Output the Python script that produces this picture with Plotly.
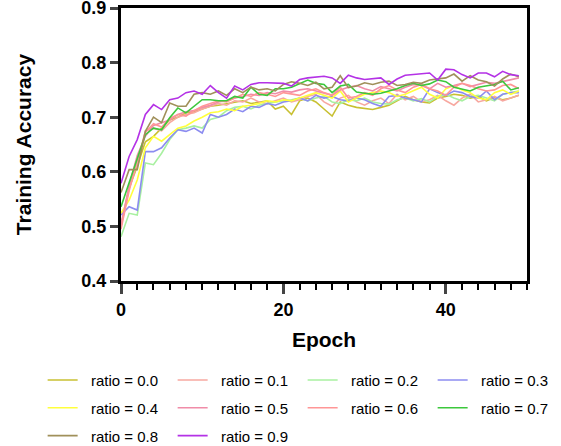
import plotly.graph_objects as go

epochs = list(range(50))

ratio_labels = ["ratio = 0.0", "ratio = 0.1", "ratio = 0.2", "ratio = 0.3", "ratio = 0.4",
                "ratio = 0.5", "ratio = 0.6", "ratio = 0.7", "ratio = 0.8", "ratio = 0.9"]

acc_r00 = [0.50, 0.57, 0.61, 0.655, 0.665, 0.68, 0.695, 0.70, 0.708, 0.71, 0.715, 0.72,
           0.722, 0.725, 0.727, 0.73, 0.725, 0.728, 0.73, 0.715, 0.72, 0.705, 0.73, 0.735,
           0.728, 0.715, 0.702, 0.728, 0.722, 0.718, 0.716, 0.714, 0.718, 0.722, 0.73, 0.738,
           0.732, 0.728, 0.726, 0.735, 0.738, 0.742, 0.74, 0.735, 0.738, 0.73, 0.736, 0.732, 0.735, 0.74]
acc_r01 = [0.505, 0.57, 0.615, 0.675, 0.68, 0.675, 0.69, 0.70, 0.705, 0.708, 0.715, 0.72,
           0.725, 0.722, 0.73, 0.728, 0.735, 0.728, 0.725, 0.73, 0.735, 0.728, 0.732, 0.738,
           0.742, 0.728, 0.72, 0.735, 0.74, 0.728, 0.722, 0.73, 0.735, 0.725, 0.742, 0.732,
           0.738, 0.728, 0.732, 0.74, 0.73, 0.722, 0.735, 0.742, 0.728, 0.732, 0.738, 0.73, 0.735, 0.74]
acc_r02 = [0.481, 0.524, 0.521, 0.616, 0.613, 0.634, 0.659, 0.677, 0.68, 0.684, 0.68, 0.696,
           0.70, 0.712, 0.718, 0.72, 0.715, 0.722, 0.725, 0.728, 0.73, 0.732, 0.735, 0.73,
           0.735, 0.738, 0.728, 0.725, 0.732, 0.73, 0.735, 0.728, 0.725, 0.724, 0.732, 0.735,
           0.73, 0.734, 0.728, 0.738, 0.742, 0.735, 0.73, 0.738, 0.74, 0.735, 0.73, 0.742, 0.745, 0.748]
acc_r03 = [0.521, 0.536, 0.53, 0.637, 0.637, 0.644, 0.662, 0.677, 0.674, 0.68, 0.671, 0.705,
           0.70, 0.705, 0.715, 0.71, 0.72, 0.718, 0.725, 0.722, 0.728, 0.73, 0.735, 0.73,
           0.74, 0.735, 0.738, 0.732, 0.73, 0.735, 0.732, 0.725, 0.72, 0.738, 0.74, 0.735,
           0.732, 0.728, 0.752, 0.745, 0.74, 0.748, 0.745, 0.738, 0.735, 0.748, 0.732, 0.742, 0.745, 0.745]
acc_r04 = [0.524, 0.548, 0.585, 0.644, 0.665, 0.656, 0.668, 0.68, 0.684, 0.693, 0.70, 0.708,
           0.71, 0.715, 0.712, 0.72, 0.722, 0.725, 0.73, 0.728, 0.732, 0.73, 0.735, 0.74,
           0.745, 0.74, 0.735, 0.748, 0.728, 0.735, 0.742, 0.745, 0.748, 0.745, 0.738, 0.742,
           0.748, 0.755, 0.742, 0.735, 0.752, 0.758, 0.75, 0.745, 0.735, 0.732, 0.745, 0.75, 0.742, 0.748]
acc_r05 = [0.50, 0.575, 0.63, 0.665, 0.685, 0.69, 0.695, 0.705, 0.71, 0.712, 0.718, 0.722,
           0.728, 0.73, 0.735, 0.738, 0.742, 0.74, 0.745, 0.743, 0.748, 0.746, 0.75, 0.752,
           0.748, 0.745, 0.74, 0.75, 0.755, 0.758, 0.752, 0.748, 0.756, 0.752, 0.748, 0.755,
           0.76, 0.758, 0.752, 0.762, 0.755, 0.758, 0.762, 0.756, 0.76, 0.764, 0.762, 0.765, 0.768, 0.772]
acc_r06 = [0.495, 0.565, 0.62, 0.672, 0.688, 0.682, 0.698, 0.705, 0.702, 0.712, 0.72, 0.725,
           0.73, 0.728, 0.735, 0.742, 0.738, 0.745, 0.742, 0.738, 0.745, 0.742, 0.74, 0.748,
           0.752, 0.745, 0.74, 0.755, 0.735, 0.738, 0.745, 0.74, 0.752, 0.758, 0.75, 0.745,
           0.755, 0.76, 0.752, 0.748, 0.74, 0.755, 0.762, 0.758, 0.752, 0.748, 0.75, 0.758, 0.76, 0.752]
acc_r07 = [0.536, 0.579, 0.622, 0.668, 0.68, 0.677, 0.699, 0.717, 0.708, 0.72, 0.732, 0.732,
           0.73, 0.73, 0.738, 0.735, 0.755, 0.742, 0.74, 0.752, 0.752, 0.755, 0.762, 0.768,
           0.762, 0.76, 0.745, 0.757, 0.76, 0.746, 0.744, 0.742, 0.744, 0.748, 0.752, 0.758,
           0.762, 0.758, 0.761, 0.768, 0.765, 0.755, 0.751, 0.748, 0.755, 0.757, 0.76, 0.766, 0.75, 0.754]
acc_r08 = [0.562, 0.604, 0.604, 0.674, 0.70, 0.69, 0.726, 0.72, 0.72, 0.742, 0.745, 0.742,
           0.748, 0.74, 0.752, 0.745, 0.755, 0.75, 0.752, 0.748, 0.76, 0.765, 0.762, 0.758,
           0.764, 0.752, 0.755, 0.776, 0.754, 0.757, 0.763, 0.76, 0.764, 0.766, 0.758, 0.76,
           0.764, 0.762, 0.768, 0.77, 0.772, 0.779, 0.766, 0.776, 0.768, 0.765, 0.757, 0.77, 0.779, 0.774]
acc_r09 = [0.579, 0.628, 0.659, 0.705, 0.723, 0.714, 0.732, 0.735, 0.745, 0.748, 0.742, 0.758,
           0.745, 0.735, 0.757, 0.75, 0.76, 0.763, 0.763, 0.763, 0.762, 0.757, 0.769, 0.772,
           0.774, 0.775, 0.772, 0.762, 0.777, 0.772, 0.769, 0.771, 0.772, 0.76, 0.77, 0.777,
           0.778, 0.78, 0.781, 0.768, 0.788, 0.787, 0.778, 0.772, 0.781, 0.781, 0.774, 0.784, 0.778, 0.776]

series = [acc_r00, acc_r01, acc_r02, acc_r03, acc_r04, acc_r05, acc_r06, acc_r07, acc_r08, acc_r09]
colors = ["#c8c032", "#f7a8a0", "#a8f0a0", "#8c8cf0", "#ffff3c",
          "#f08ca8", "#ff9696", "#3cc83c", "#a0905a", "#b432e6"]
legend_rows = ["legend", "legend", "legend", "legend", "legend2",
               "legend2", "legend2", "legend2", "legend3", "legend3"]

fig = go.Figure()
for lab, ys, c, lg in zip(ratio_labels, series, colors, legend_rows):
    fig.add_trace(go.Scatter(x=epochs, y=ys, mode="lines", name="\u00a0\u00a0" + lab,
                             line=dict(color=c, width=1.6), legend=lg))

leg_common = dict(orientation="h", x=-0.193, xanchor="left", yanchor="top",
                  font=dict(size=15, color="black", family="Liberation Sans, Arial"),
                  entrywidth=85, entrywidthmode="pixels", bgcolor="rgba(0,0,0,0)",
                  borderwidth=0)

fig.update_layout(
    width=561, height=446,
    margin=dict(l=121, r=34, t=8, b=165, autoexpand=False),
    paper_bgcolor="white", plot_bgcolor="white",
    font=dict(family="Liberation Sans, Arial, sans-serif", color="black"),
    showlegend=True,
    legend=dict(y=-0.303, **leg_common),
    legend2=dict(y=-0.405, **leg_common),
    legend3=dict(y=-0.507, **leg_common),
)
fig.update_xaxes(range=[0, 50], dtick=20, tick0=0, ticks="outside", ticklen=10, tickwidth=3,
                 showline=True, linewidth=3, linecolor="black", mirror=True, showgrid=False,
                 zeroline=False, automargin=False, ticklabeloverflow="allow",
                 minor=dict(dtick=2, tick0=0, ticks="outside", ticklen=6, tickwidth=2, tickcolor="black"),
                 tickfont=dict(size=18, family="Liberation Sans, Arial", color="black", weight="bold"),
                 title=dict(text="<b>Epoch</b>", font=dict(size=21, color="black"), standoff=14))
fig.update_yaxes(range=[0.4, 0.9], dtick=0.1, tick0=0.4, ticks="outside", ticklen=8, tickwidth=3,
                 tickformat=".1f",
                 showline=True, linewidth=3, linecolor="black", mirror=True, showgrid=False,
                 zeroline=False, automargin=False, ticklabeloverflow="allow",
                 tickfont=dict(size=18, family="Liberation Sans, Arial", color="black", weight="bold"),
                 title=dict(text="<b>Training Accuracy</b>", font=dict(size=21, color="black"), standoff=45))

fig.write_html("out.html", config={"displayModeBar": False},
               post_script="document.body.style.margin='0px';")
